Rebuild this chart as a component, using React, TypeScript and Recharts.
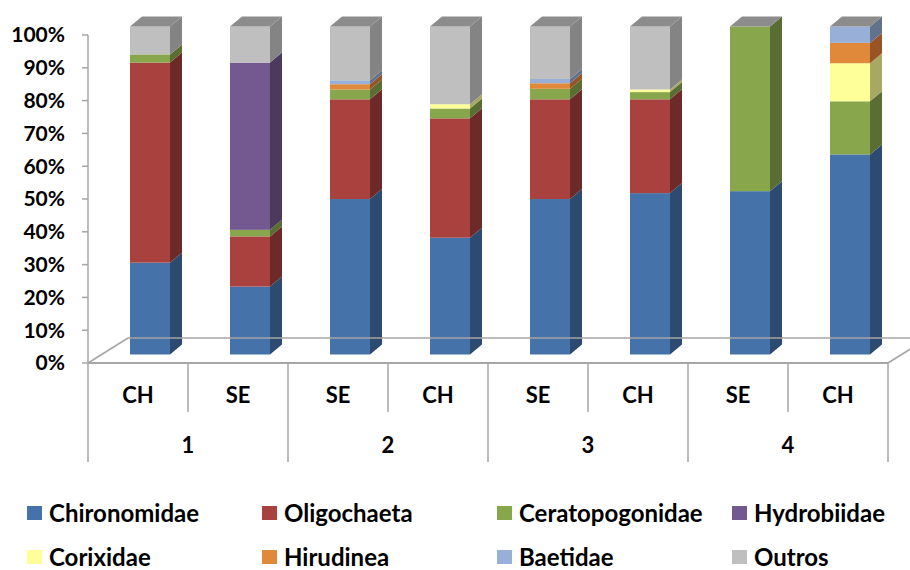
import React from "react";
import { BarChart, Bar, XAxis, YAxis } from "recharts";

// Amostras (ordem do gráfico) e grupos
const categorias = ["CH", "SE", "SE", "CH", "SE", "CH", "SE", "CH"];
const grupos = ["1", "1", "2", "2", "3", "3", "4", "4"];

// Percentagens por táxon
const chironomidae = [28, 20.7, 47.4, 35.6, 47.4, 49.2, 49.8, 61];
const oligochaeta = [61, 15.3, 30.4, 36.4, 30.4, 28.6, 0, 0];
const ceratopogonidae = [2.5, 2, 3, 3, 3.2, 2.2, 50.2, 16.2];
const hydrobiidae = [0, 51, 0, 0, 0, 0, 0, 0];
const corixidae = [0, 0, 0, 1.3, 0, 0.8, 0, 11.6];
const hirudinea = [0, 0, 1.6, 0, 1.7, 0, 0, 6.2];
const baetidae = [0, 0, 1.2, 0, 1.3, 0, 0, 5];
const outros = [8.5, 11, 16.4, 23.7, 16, 19.2, 0, 0];

const yTicks = [0, 10, 20, 30, 40, 50, 60, 70, 80, 90, 100];

const series = [
  { key: "Chironomidae", values: chironomidae, color: "#4572A8", side: "#2D4A70" },
  { key: "Oligochaeta", values: oligochaeta, color: "#A9423F", side: "#6D2A28" },
  { key: "Ceratopogonidae", values: ceratopogonidae, color: "#88A64C", side: "#5A6E33" },
  { key: "Hydrobiidae", values: hydrobiidae, color: "#735990", side: "#4B3A5E" },
  { key: "Corixidae", values: corixidae, color: "#FFFF99", side: "#A8A865" },
  { key: "Hirudinea", values: hirudinea, color: "#E0893B", side: "#985424" },
  { key: "Baetidae", values: baetidae, color: "#98AFD8", side: "#62728D" },
  { key: "Outros", values: outros, color: "#BFBFBF", side: "#848484" },
];

const data = categorias.map((c, i) => {
  const row: any = { id: grupos[i] + "-" + c + "-" + i, cat: c, grupo: grupos[i] };
  series.forEach((s) => (row[s.key] = s.values[i]));
  return row;
});

const FONT = "Lato, 'Open Sans', sans-serif";
const AXIS = "#A6A6A6";
const DX = 12;
const DY = 10;
const SHIFT_Y = -8.5;

function makeShape(key: string, side: string) {
  return (props: any) => {
    const { x, y, width, height, fill, payload } = props;
    if (!height || height <= 0) return <g />;
    const fx = x + DX;
    const fy = y + SHIFT_Y;
    let topKey = "";
    series.forEach((s) => {
      if (payload && payload[s.key] > 0) topKey = s.key;
    });
    const isTop = topKey === key;
    return (
      <g>
        <rect x={fx} y={fy} width={width} height={height} fill={fill} />
        <polygon
          points={`${fx + width},${fy} ${fx + width + DX},${fy - DY} ${fx + width + DX},${fy + height - DY} ${fx + width},${fy + height}`}
          fill={side}
        />
        {isTop && (
          <polygon
            points={`${fx},${fy} ${fx + DX},${fy - DY} ${fx + width + DX},${fy - DY} ${fx + width},${fy}`}
            fill="#8C8C8C"
          />
        )}
      </g>
    );
  };
}

function CategoryTick(props: any) {
  const { x, y, index } = props;
  const half = 50;
  const last = index === categorias.length - 1;
  return (
    <g>
      {index === 0 && (
        <>
          <line x1={x - half} y1={y} x2={x - half + 40} y2={y - 25} stroke={AXIS} strokeWidth={1.5} />
          <line x1={x - half + 40} y1={y - 25} x2={x - half + 850} y2={y - 25} stroke={AXIS} strokeWidth={1.5} />
        </>
      )}
      {last && (
        <line x1={x + half} y1={y} x2={x + half + 40} y2={y - 25} stroke={AXIS} strokeWidth={1.5} />
      )}
      <line x1={x - half} y1={y} x2={x - half} y2={index % 2 === 0 ? y + 99 : y + 49} stroke={AXIS} strokeWidth={1.5} />
      {last && <line x1={x + half} y1={y} x2={x + half} y2={y + 99} stroke={AXIS} strokeWidth={1.5} />}
      <text x={x} y={y + 32} dy="0.355em" textAnchor="middle" fontFamily={FONT} fontWeight={700} fontSize={22} fill="#000">
        {categorias[index]}
      </text>
      {index % 2 === 0 && (
        <text x={x + half} y={y + 82} dy="0.355em" textAnchor="middle" fontFamily={FONT} fontWeight={700} fontSize={22} fill="#000">
          {grupos[index]}
        </text>
      )}
    </g>
  );
}

function Legenda() {
  return (
    <div style={{ position: "absolute", left: 27, top: 499, display: "grid", gridTemplateColumns: "repeat(4, 235px)", rowGap: 16 }}>
      {series.map((s) => (
        <div key={s.key} style={{ display: "flex", alignItems: "center", height: 28 }}>
          <span style={{ display: "inline-block", width: 15, height: 14, background: s.color, marginRight: 7 }} />
          <span style={{ fontFamily: FONT, fontWeight: 700, fontSize: 24, lineHeight: "28px", color: "#000" }}>{s.key}</span>
        </div>
      ))}
    </div>
  );
}

export default function App() {
  return (
    <div style={{ position: "absolute", left: 0, top: 0, width: 910, height: 570, background: "#fff", overflow: "hidden" }}>
      <BarChart width={910} height={470} data={data} margin={{ top: 35, right: 22, bottom: 7, left: 0 }} barSize={40}>
        <XAxis
          dataKey="id"
          height={100}
          tick={<CategoryTick />}
          tickLine={false}
          tickSize={0}
          tickMargin={0}
          interval={0}
          axisLine={{ stroke: AXIS, strokeWidth: 2 }}
        />
        <YAxis
          type="number"
          domain={[0, 100]}
          ticks={yTicks}
          width={88}
          tickFormatter={(v) => v + "%"}
          tickSize={6}
          tickMargin={17}
          axisLine={{ stroke: AXIS, strokeWidth: 1.5 }}
          tickLine={{ stroke: AXIS, strokeWidth: 1.5 }}
          tick={{ fill: "#000", fontFamily: FONT, fontWeight: 700, fontSize: 21 }}
        />
        {series.map((s) => (
          <Bar
            key={s.key}
            dataKey={s.key}
            stackId="a"
            fill={s.color}
            isAnimationActive={false}
            shape={makeShape(s.key, s.side)}
          />
        ))}
      </BarChart>
      <Legenda />
    </div>
  );
}
